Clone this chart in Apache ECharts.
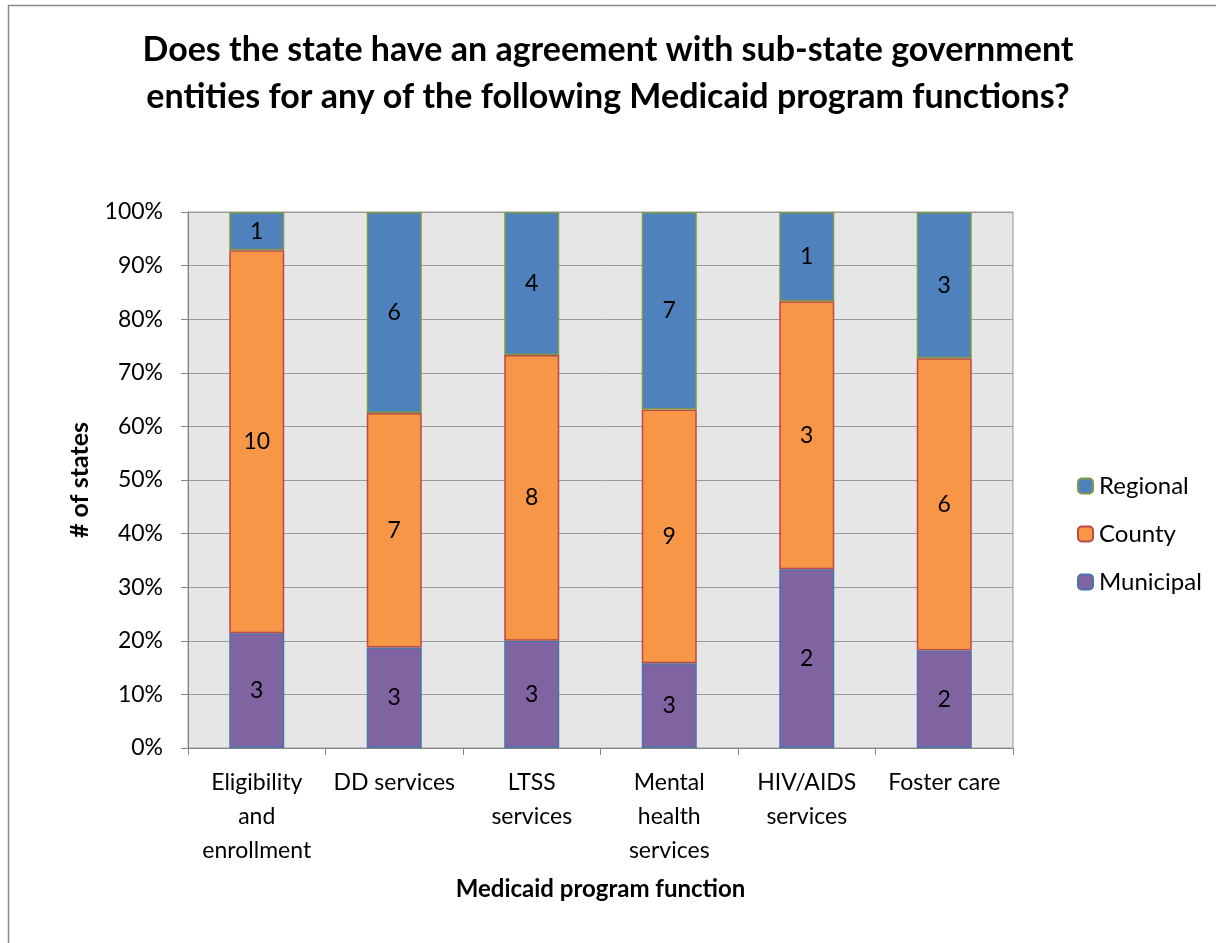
<!DOCTYPE html>
<html>
<head>
<meta charset="utf-8">
<script src="https://cdn.jsdelivr.net/npm/echarts@6/dist/echarts.min.js"></script>
<style>
  html, body { margin: 0; padding: 0; background: #fff; }
  #chart { width: 1216px; height: 943px; }
</style>
</head>
<body>
<div id="chart"></div>
<script>
// Number of states per program function, by type of sub-state entity
const categories = [
  'Eligibility\nand\nenrollment',
  'DD services',
  'LTSS\nservices',
  'Mental\nhealth\nservices',
  'HIV/AIDS\nservices',
  'Foster care'
];
const municipal = [3, 3, 3, 3, 2, 2];
const county    = [10, 7, 8, 9, 3, 6];
const regional  = [1, 6, 4, 7, 1, 3];
const yTicks = [0, 10, 20, 30, 40, 50, 60, 70, 80, 90, 100];

// 100% stacked: each column is scaled by its own total
const totals = categories.map((_, i) => municipal[i] + county[i] + regional[i]);
const share = arr => arr.map((v, i) => ({ value: v / totals[i] * 100, count: v }));

const FONT = 'Lato, "Open Sans", sans-serif';

const chart = echarts.init(document.getElementById('chart'), null, { renderer: 'canvas' });

function series(name, arr, fill, stroke) {
  return {
    name: name,
    type: 'bar',
    stack: 'all',
    barWidth: '40%',
    data: share(arr),
    itemStyle: { color: fill, borderColor: stroke, borderWidth: 1.5 },
    label: {
      show: true,
      position: 'inside',
      color: '#000',
      fontFamily: FONT,
      fontSize: 23,
      formatter: p => p.data.count
    },
    emphasis: { disabled: true }
  };
}

chart.setOption({
  animation: false,
  backgroundColor: '#fff',
  graphic: [{
    type: 'rect',
    shape: { x: 8.5, y: 5.5, width: 1400, height: 1200 },
    style: { fill: 'none', stroke: '#8c8c8c', lineWidth: 1.5 },
    silent: true,
    z: -10
  }],
  title: {
    text: 'Does the state have an agreement with sub-state government\nentities for any of the following Medicaid program functions?',
    left: 'center',
    top: 22,
    textStyle: {
      fontFamily: FONT,
      fontWeight: 'bold',
      fontSize: 34,
      lineHeight: 47,
      color: '#000'
    }
  },
  legend: {
    orient: 'vertical',
    left: 1072,
    top: 469,
    itemWidth: 15,
    itemHeight: 15,
    itemGap: 24,
    data: ['Regional', 'County', 'Municipal'],
    textStyle: { fontFamily: FONT, fontSize: 24, color: '#000', padding: [0, 0, 0, 1] },
    selectedMode: false
  },
  grid: {
    left: 188,
    right: 203,
    top: 212,
    bottom: 195,
    show: true,
    backgroundColor: '#e6e6e6',
    borderColor: '#9a9a9a',
    borderWidth: 1
  },
  xAxis: {
    type: 'category',
    data: categories,
    name: 'Medicaid program function',
    nameLocation: 'middle',
    nameGap: 129,
    nameTextStyle: { fontFamily: FONT, fontWeight: 'bold', fontSize: 24, color: '#000' },
    axisLine: { lineStyle: { color: '#868686', width: 1 } },
    axisTick: { show: true, alignWithLabel: false, length: 7, lineStyle: { color: '#868686' } },
    axisLabel: {
      interval: 0,
      margin: 18,
      fontFamily: FONT,
      fontSize: 23,
      lineHeight: 34,
      color: '#000'
    },
    splitLine: { show: false }
  },
  yAxis: {
    type: 'value',
    min: 0,
    max: 100,
    interval: 10,
    name: '# of states',
    nameLocation: 'middle',
    nameGap: 96,
    nameTextStyle: { fontFamily: FONT, fontWeight: 'bold', fontSize: 25, color: '#000' },
    axisLine: { show: true, lineStyle: { color: '#868686', width: 1 } },
    axisTick: { show: true, length: 7, lineStyle: { color: '#868686' } },
    axisLabel: {
      margin: 25,
      fontFamily: FONT,
      fontSize: 23,
      color: '#000',
      formatter: v => yTicks.includes(v) ? v + '%' : ''
    },
    splitLine: { show: true, lineStyle: { color: '#9a9a9a', width: 1 } }
  },
  series: [
    series('Municipal', municipal, '#8064a2', '#4a74aa'),
    series('County', county, '#f79646', '#b84a48'),
    series('Regional', regional, '#4f81bd', '#7d9a48')
  ]
});
</script>
</body>
</html>
